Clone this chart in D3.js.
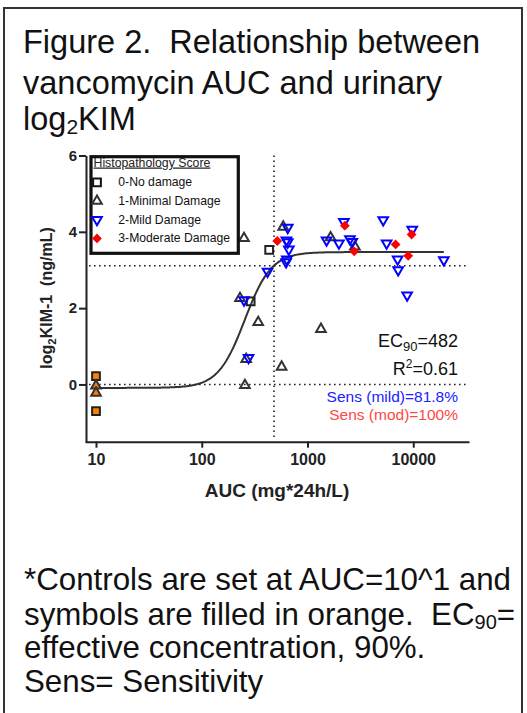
<!DOCTYPE html>
<html><head><meta charset="utf-8">
<script src="https://cdn.jsdelivr.net/npm/d3@7"></script>
<style>
html,body{margin:0;padding:0;background:#fff;}
svg{display:block;font-family:"Liberation Sans",Arial,sans-serif;}
</style></head>
<body><svg id="c" width="527" height="713"></svg>
<script>
// ---------- data ----------
const xTicks = [10, 100, 1000, 10000];
const yTicks = [0, 2, 4, 6];
const legendLabels = ["0-No damage", "1-Minimal Damage", "2-Mild Damage", "3-Moderate Damage"];

const controlAUC = 10;
const controlSquareKIM = [0.22, -0.70];
const controlTriangleKIM = [-0.03, -0.22];

const noDamageAUC = [434, 290];
const noDamageKIM = [3.53, 2.18];
const minimalAUC = [251, 589, 230, 342, 1340, 263, 569, 256, 1652, 2807];
const minimalKIM = [3.83, 4.13, 2.26, 1.63, 1.45, 0.66, 0.46, -0.02, 3.85, 3.61];
const mildAUC = [251, 277, 419, 650, 631, 650, 666, 637, 627, 1514, 1982, 2208, 2518, 2649, 5196, 5597, 9776, 7112, 7196, 8750, 19450];
const mildKIM = [2.21, 0.70, 2.96, 4.11, 3.78, 3.73, 3.54, 3.28, 3.21, 3.78, 3.70, 4.26, 3.81, 3.74, 4.31, 3.70, 4.06, 3.28, 3.00, 2.34, 3.26];
const moderateAUC = [518, 2256, 2763, 6808, 9640, 8955];
const moderateKIM = [3.76, 4.16, 3.49, 3.67, 3.93, 3.37];

// fitted sigmoid (Hill) parameters
const fitBottom = -0.09, fitTop = 3.47, fitEC50 = 255, fitHill = 3.45;
const fitRange = [10, 19450];
const ec90 = 482;
const kimThreshold = 3.11;

// ---------- drawing ----------
const svg = d3.select("#c");
const BLUE = "#0000ff", RED = "#ff0000", ORANGE = "#ff8000", DARK = "#333";

// outer frame
svg.append("rect").attr("x", 4).attr("y", 8).attr("width", 518).attr("height", 720)
  .attr("fill", "none").attr("stroke", "#333").attr("stroke-width", 2);

// title
const title = svg.append("g").attr("font-size", 32.5).attr("fill", "#111");
title.append("text").attr("x", 23).attr("y", 53).style("white-space", "pre")
  .text("Figure 2.  Relationship between");
title.append("text").attr("x", 23).attr("y", 94).text("vancomycin AUC and urinary");
const t3 = title.append("text").attr("x", 23).attr("y", 130);
t3.append("tspan").text("log");
t3.append("tspan").attr("font-size", 21).attr("dy", 4).text("2");
t3.append("tspan").attr("dy", -4).text("KIM");

// footnote
const foot = svg.append("g").attr("font-size", 31.3).attr("fill", "#111");
foot.append("text").attr("x", 24).attr("y", 590).text("*Controls are set at AUC=10^1 and");
const f2 = foot.append("text").attr("x", 24).attr("y", 625).style("white-space", "pre");
f2.append("tspan").text("symbols are filled in orange.  EC");
f2.append("tspan").attr("font-size", 20).attr("dy", 4).text("90");
f2.append("tspan").attr("dy", -4).text("=");
foot.append("text").attr("x", 24).attr("y", 658).text("effective concentration, 90%.");
foot.append("text").attr("x", 24).attr("y", 692).text("Sens= Sensitivity");

// scales
const x = d3.scaleLog().domain([7.87, 33650]).range([85, 469]);
const y = d3.scaleLinear().domain([-1.5, 6]).range([441.7, 155.5]);

// axes
const yAxis = svg.append("g").attr("transform", "translate(86,0)")
  .call(d3.axisLeft(y).tickValues(yTicks).tickSize(7).tickSizeOuter(0).tickPadding(2).tickFormat(d3.format("d")));
const xAxis = svg.append("g").attr("transform", "translate(0,441.7)")
  .call(d3.axisBottom(x).tickValues(xTicks).tickSize(6).tickSizeOuter(0).tickPadding(6).tickFormat(d3.format("d")));
[yAxis, xAxis].forEach(a => {
  a.selectAll("path,line").attr("stroke", "#222").attr("stroke-width", 2);
  a.selectAll("text").attr("font-family", "Liberation Sans, Arial, sans-serif")
    .attr("font-weight", "bold").attr("fill", "#222");
});
yAxis.selectAll("text").attr("font-size", 15);
xAxis.selectAll("text").attr("font-size", 16);

// axis titles
svg.append("text").attr("x", 277).attr("y", 497).attr("text-anchor", "middle")
  .attr("font-weight", "bold").attr("font-size", 19).attr("fill", "#222").text("AUC (mg*24h/L)");
const yl = svg.append("text").attr("transform", "translate(52,298) rotate(-90)")
  .attr("text-anchor", "middle").attr("font-weight", "bold").attr("font-size", 16).attr("fill", "#222")
  .style("white-space", "pre");
yl.append("tspan").text("log");
yl.append("tspan").attr("font-size", 11.5).attr("dy", 4).text("2");
yl.append("tspan").attr("dy", -4).text("KIM-1  (ng/mL)");

// reference dotted lines
const dots = svg.append("g").attr("stroke", "#222").attr("stroke-width", 1.6).attr("stroke-dasharray", "1.6,3.4").attr("fill", "none");
[0, kimThreshold].forEach(v => dots.append("line")
  .attr("x1", x.range()[0] + 4).attr("x2", x.range()[1] - 2).attr("y1", y(v)).attr("y2", y(v)));
dots.append("line").attr("x1", x(ec90)).attr("x2", x(ec90)).attr("y1", y(6)).attr("y2", y(-1.5) - 3);

// fitted curve
const hill = a => fitBottom + (fitTop - fitBottom) / (1 + Math.pow(fitEC50 / a, fitHill));
const curveX = d3.range(0, 201).map(i => Math.pow(10, Math.log10(fitRange[0]) + i / 200 * (Math.log10(fitRange[1]) - Math.log10(fitRange[0]))));
svg.append("path").datum(curveX)
  .attr("d", d3.line().x(a => x(a)).y(a => y(hill(a))))
  .attr("fill", "none").attr("stroke", "#333").attr("stroke-width", 2);

// markers
const sym = {
  square: d3.symbol().type(d3.symbolSquare).size(60)(),
  triUp: d3.symbol().type(d3.symbolTriangle).size(40)(),
  diamond: d3.symbol().type(d3.symbolSquare).size(48)()
};
function draw(g, xs, ys, kind, fill, stroke) {
  g.selectAll(null).data(xs.map((a, i) => [a, ys[i]])).enter().append("path")
    .attr("d", kind === "triDown" ? sym.triUp : sym[kind])
    .attr("transform", d => `translate(${x(d[0])},${y(d[1])})` + (kind === "triDown" ? " rotate(180)" : kind === "diamond" ? " rotate(45)" : ""))
    .attr("fill", fill).attr("stroke", stroke).attr("stroke-width", kind === "diamond" ? 0 : 2)
    .attr("stroke-linejoin", "miter");
}
const pts = svg.append("g");
draw(pts, noDamageAUC, noDamageKIM, "square", "none", "#222");
draw(pts, minimalAUC, minimalKIM, "triUp", "none", DARK);
draw(pts, mildAUC, mildKIM, "triDown", "none", BLUE);
draw(pts, moderateAUC, moderateKIM, "diamond", RED, RED);
draw(pts, controlSquareKIM.map(() => controlAUC), controlSquareKIM, "square", ORANGE, "#222");
draw(pts, controlTriangleKIM.map(() => controlAUC), controlTriangleKIM, "triUp", ORANGE, DARK);

// legend
const lg = svg.append("g");
lg.append("rect").attr("x", 91).attr("y", 156.7).attr("width", 147.3).attr("height", 96.6)
  .attr("fill", "#fff").attr("stroke", "#111").attr("stroke-width", 3.2);
lg.append("text").attr("x", 93.5).attr("y", 166.5).attr("font-size", 12.3).attr("fill", "#222")
  .attr("text-decoration", "underline").text("Histopathology Score");
const kinds = [["square", "none", "#111"], ["triUp", "none", DARK], ["triDown", "none", BLUE], ["diamond", RED, RED]];
legendLabels.forEach((lab, i) => {
  const cy = 182.3 + i * 18.7;
  const k = kinds[i];
  lg.append("path").attr("d", k[0] === "triDown" ? sym.triUp : sym[k[0]])
    .attr("transform", `translate(97,${cy})` + (k[0] === "triDown" ? " rotate(180)" : k[0] === "diamond" ? " rotate(45)" : ""))
    .attr("fill", k[1]).attr("stroke", k[2]).attr("stroke-width", k[0] === "diamond" ? 0 : 2);
  lg.append("text").attr("x", 118.3).attr("y", cy + 3.8).attr("font-size", 12.2).attr("fill", "#111").text(lab);
});

// annotations
const ann = svg.append("g").attr("text-anchor", "end");
const e = ann.append("text").attr("x", 458).attr("y", 347).attr("font-size", 18).attr("fill", "#111");
e.append("tspan").text("EC");
e.append("tspan").attr("font-size", 13).attr("dy", 4).text("90");
e.append("tspan").attr("dy", -4).text("=" + ec90);
const r = ann.append("text").attr("x", 458).attr("y", 375).attr("font-size", 18).attr("fill", "#111");
r.append("tspan").text("R");
r.append("tspan").attr("font-size", 12).attr("dy", -7).text("2");
r.append("tspan").attr("dy", 7).text("=0.61");
ann.append("text").attr("x", 458).attr("y", 401.5).attr("font-size", 15.5).attr("fill", "#2020ff").text("Sens (mild)=81.8%");
ann.append("text").attr("x", 458).attr("y", 420).attr("font-size", 15.5).attr("fill", "#ff4545").text("Sens (mod)=100%");
</script></body></html>
